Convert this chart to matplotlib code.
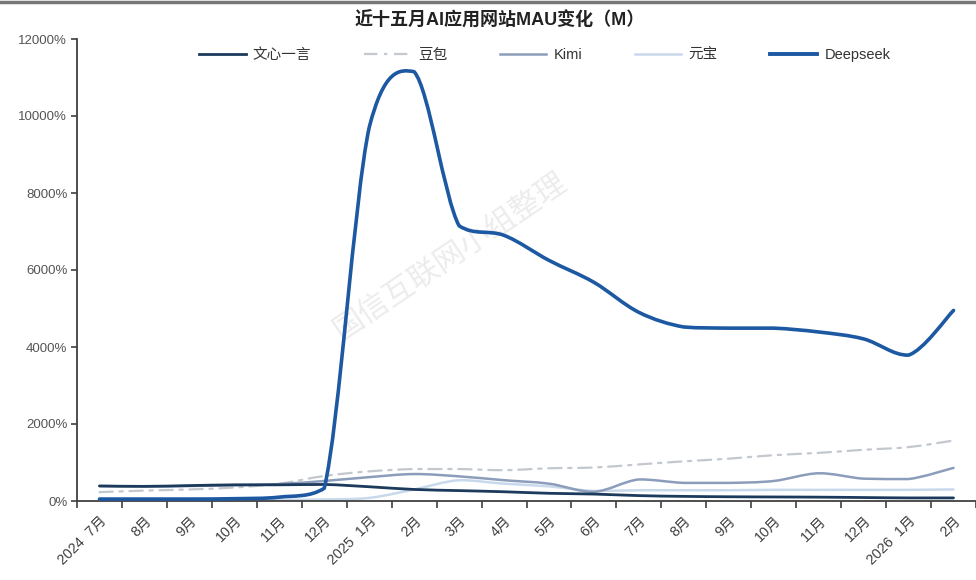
import numpy as np
import matplotlib
matplotlib.use("Agg")
import matplotlib.pyplot as plt
from matplotlib.path import Path
from matplotlib.patches import PathPatch
from matplotlib.lines import Line2D
from matplotlib.ticker import FuncFormatter

plt.rcParams['font.family'] = ['Liberation Sans', 'Noto Sans CJK SC', 'DejaVu Sans']

# ---------------- data ----------------
months = ['2024  7月', '8月', '9月', '10月', '11月', '12月',
          '2025  1月', '2月', '3月', '4月', '5月', '6月', '7月', '8月',
          '9月', '10月', '11月', '12月', '2026  1月', '2月']

wenxin = [390, 380, 400, 420, 420, 430, 370, 300, 270, 240, 200, 180,
          140, 120, 110, 105, 100, 90, 80, 80]
doubao = [230, 270, 300, 350, 450, 650, 770, 830, 830, 800, 850, 870,
          950, 1030, 1100, 1190, 1250, 1330, 1400, 1570]
kimi = [390, 380, 390, 410, 440, 520, 620, 700, 640, 540, 450, 240,
        560, 470, 470, 520, 720, 580, 570, 860]
yuanbao = [20, 20, 20, 20, 30, 40, 80, 300, 540, 450, 380, 260,
           280, 280, 280, 290, 290, 290, 290, 300]
deepseek = [50, 50, 50, 60, 100, 330, 9700, 11150, 7150, 6900, 6250, 5680,
            4900, 4520, 4490, 4490, 4390, 4210, 3790, 4950]

series_names = ['文心一言', '豆包', 'Kimi', '元宝', 'Deepseek']
series_vals = [wenxin, doubao, kimi, yuanbao, deepseek]
colors = ['#1b3a5c', '#c3c7ce', '#8c9dbb', '#c9d9ec', '#1d58a2']
widths = [2.0, 1.6, 1.8, 1.8, 2.6]
styles = ['-', (0, (6, 3, 1.5, 3)), '-', '-', '-']
zorders = [4, 3, 3, 2, 5]

title = '近十五月AI应用网站MAU变化（M）'
watermark = '国信互联网小组整理'


def smooth_path(xs, ys, slack=0.05):
    n = len(xs)
    verts = [(xs[0], ys[0])]
    codes = [Path.MOVETO]
    for i in range(n - 1):
        x0, y0 = xs[i], ys[i]
        x1, y1 = xs[i + 1], ys[i + 1]
        xp, yp = (xs[i - 1], ys[i - 1]) if i > 0 else (x0, y0)
        xn, yn = (xs[i + 2], ys[i + 2]) if i + 2 < n else (x1, y1)
        s = slack * abs(y1 - y0)
        lo, hi = min(y0, y1) - s, max(y0, y1) + s
        c1 = (x0 + (x1 - xp) / 6.0, min(max(y0 + (y1 - yp) / 6.0, lo), hi))
        c2 = (x1 - (xn - x0) / 6.0, min(max(y1 - (yn - y0) / 6.0, lo), hi))
        verts += [c1, c2, (x1, y1)]
        codes += [Path.CURVE4] * 3
    return Path(verts, codes)


# ---------------- figure ----------------
W, H = 976, 580
fig = plt.figure(figsize=(W / 100, H / 100), dpi=100)
fig.patch.set_facecolor('white')

ax = fig.add_axes([77 / W, 1 - 501 / H, (W - 77) / W, (501 - 39) / H])

x = np.arange(len(months))
handles = []
for name, vals, c, lw, ls, z in zip(series_names, series_vals, colors, widths, styles, zorders):
    p = smooth_path(list(x.astype(float)), [float(v) for v in vals])
    patch = PathPatch(p, fill=False, edgecolor=c, lw=lw, linestyle=ls,
                      zorder=z, capstyle='round', joinstyle='round')
    ax.add_patch(patch)
    handles.append(Line2D([], [], color=c, lw=lw if name != 'Deepseek' else 2.8,
                          linestyle=ls))

ax.set_xlim(-0.5, -0.5 + (W - 77) / 45.2)
ax.set_ylim(0, 12000)

ax.set_yticks(np.arange(0, 12001, 2000))
ax.yaxis.set_major_formatter(FuncFormatter(lambda v, p: f'{int(v)}%'))
ax.tick_params(axis='y', direction='out', length=4, width=1.2, colors='#404040',
               labelsize=9.5, labelcolor='#555555', pad=3)

ax.set_xticks(np.arange(-0.5, len(months), 1))
ax.set_xticklabels([])
ax.set_xticks(x, minor=True)
ax.set_xticklabels(months, minor=True, rotation=45, ha='right',
                   rotation_mode='anchor', fontsize=10.3, color='#404040')
ax.tick_params(axis='x', which='major', direction='out', length=5, width=1.2,
               colors='#404040')
ax.tick_params(axis='x', which='minor', length=0, pad=9)

for s in ['top', 'right']:
    ax.spines[s].set_visible(False)
for s in ['left', 'bottom']:
    ax.spines[s].set_color('#404040')
    ax.spines[s].set_linewidth(1.3)

# watermark
ax.text(0.415, 0.53, watermark, transform=ax.transAxes, rotation=34,
        fontsize=22, color='#ececec', ha='center', va='center', zorder=0,
        family=['Noto Sans CJK SC'])

fig.text(0.512, 1 - 21 / H, title, ha='center', va='center', fontsize=13,
         fontweight='bold', color='#222222')

leg = fig.legend(handles, series_names, loc='center', ncol=5,
                 bbox_to_anchor=(0.558, 1 - 55 / H), frameon=False,
                 handlelength=3.2, handletextpad=0.5, columnspacing=3.6,
                 prop={'size': 10.5})
for t in leg.get_texts():
    t.set_color('#333333')

# top grey border of the screenshot
fig.add_artist(Line2D([0, 1], [1 - 1.5 / H, 1 - 1.5 / H], transform=fig.transFigure,
                      color='#777777', lw=2.5))

fig.savefig('out.png', dpi=100, facecolor='white')
